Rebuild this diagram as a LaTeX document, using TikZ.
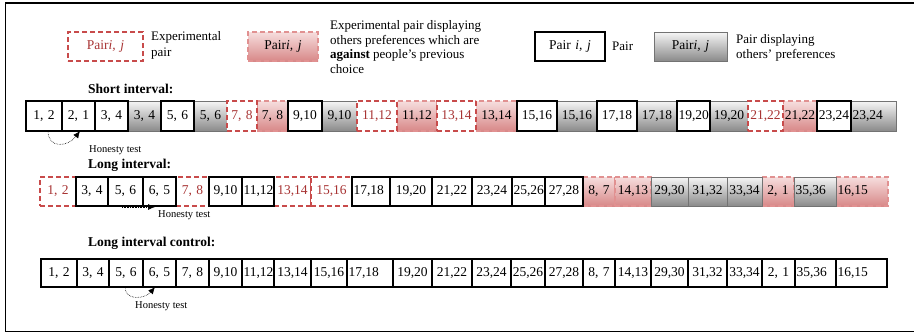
\documentclass[tikz,border=0pt]{standalone}
\usepackage{fontspec}
\setmainfont{Liberation Serif}
\usetikzlibrary{arrows.meta}
\definecolor{redtxt}{RGB}{168,52,52}
\definecolor{reddash}{RGB}{200,75,75}
\definecolor{pinkdash}{RGB}{225,145,145}
\definecolor{pinktop}{RGB}{246,222,222}
\definecolor{pinkbot}{RGB}{216,136,136}
\definecolor{graytop}{RGB}{246,246,246}
\definecolor{graybot}{RGB}{138,138,138}
\definecolor{grayline}{RGB}{115,115,115}
\newcommand{\boxfont}{\fontsize{13.5}{15}\selectfont}
\newcommand{\legfont}{\fontsize{13}{16}\selectfont}
\newcommand{\legfontb}{\fontsize{13}{14.5}\selectfont}
\newcommand{\smallfont}{\fontsize{10.5}{12}\selectfont}
\newcommand{\headfont}{\fontsize{13.5}{15}\selectfont\bfseries}
\newcommand{\cellbox}[5]{\pgfmathsetmacro{\pbW}{#4-#3}\pgfmathsetmacro{\pbT}{#4-#3-3}\node[#2, minimum width=\pbW pt, text width=\pbT pt, minimum height=\rowh pt, anchor=west] (#1) at (#3,\rowy) {#5};}
\begin{document}
\begin{tikzpicture}[x=1pt,y=-1pt,
 cell/.style={inner xsep=1.5pt, inner ysep=0pt, outer sep=0pt, align=center, font=\boxfont},
 wbox/.style={cell, draw=black, line width=1.1pt, fill=white},
 gbox/.style={cell, draw=grayline, line width=0.9pt, top color=graytop, bottom color=graybot},
 dbox/.style={cell, draw=reddash, line width=1.3pt, dash pattern=on 5pt off 3pt, fill=white, text=redtxt},
 pkbox/.style={cell, draw=pinkdash, line width=1.1pt, dash pattern=on 5pt off 3pt, top color=pinktop, bottom color=pinkbot},
 lft/.style={align=left},
 heading/.style={font=\headfont, anchor=west, inner sep=0pt},
 honesty/.style={font=\smallfont, anchor=west, inner sep=0pt},
 legtext/.style={anchor=west, align=left, inner sep=0pt},
 hon/.style={densely dotted, line width=0.6pt, -{Latex[length=7pt,width=6pt]}}]
\useasboundingbox (0,0) rectangle (914,333);
% frame
\draw[line width=1.2pt] (914,3) -- (5.5,3) -- (5.5,331.5) -- (914,331.5);

% legend
\def\rowy{46.5}\def\rowh{29}
\cellbox{lg1}{dbox}{68}{143}{Pair\textit{i, j}}
\cellbox{lg2}{pkbox}{248}{318}{Pair\textit{i, j}}
\cellbox{lg3}{wbox}{535}{605}{Pair \textit{i, j}}
\cellbox{lg4}{gbox}{654}{727}{Pair\textit{i, j}}
\node[legtext, font=\legfont] (lt1) at (151,45.5) {Experimental\\pair};
\node[legtext, font=\legfontb] (lt2) at (330,47) {Experimental pair displaying\\others preferences which are\\\textbf{against} people's previous\\choice};
\node[legtext, font=\legfont] (lt3) at (612,46.5) {Pair};
\node[legtext, font=\legfontb] (lt4) at (736,48) {Pair displaying\\others' preferences};

% short interval
\node[heading] (h1) at (88,88.5) {Short interval:};
\def\rowy{116}\def\rowh{30}
\cellbox{s4}{gbox}{128}{161}{3, 4}
\cellbox{s6}{gbox}{194}{227}{5, 6}
\cellbox{s10}{gbox}{322}{357}{9,10}
\cellbox{s16}{gbox}{557}{597}{15,16}
\cellbox{s18}{gbox}{637}{677}{17,18}
\cellbox{s20}{gbox}{710}{748}{19,20}
\cellbox{s24}{gbox,lft}{851}{896}{23,24}
\cellbox{s8}{pkbox}{257}{288}{7, 8}
\cellbox{s12}{pkbox}{397}{437}{11,12}
\cellbox{s14}{pkbox}{476}{517}{13,14}
\cellbox{s22}{pkbox}{783}{817}{21,22}
\cellbox{s7}{dbox}{227}{257}{7, 8}
\cellbox{s11}{dbox}{357}{397}{11,12}
\cellbox{s13}{dbox}{437}{476}{13,14}
\cellbox{s21}{dbox}{748}{783}{21,22}
\cellbox{s1}{wbox}{26}{62}{1, 2}
\cellbox{s2}{wbox}{62}{95}{2, 1}
\cellbox{s3}{wbox}{95}{128}{3, 4}
\cellbox{s5}{wbox}{161}{194}{5, 6}
\cellbox{s9}{wbox}{288}{322}{9,10}
\cellbox{s15}{wbox}{517}{557}{15,16}
\cellbox{s17}{wbox}{597}{637}{17,18}
\cellbox{s19}{wbox}{677}{710}{19,20}
\cellbox{s23}{wbox}{817}{851}{23,24}
\draw[hon] ([xshift=4pt]s1.south) .. controls +(0,18) and +(-12,16) .. ([xshift=1.5pt]s2.south);
\node[honesty] (ht1) at (89,150.5) {Honesty test};

% long interval
\node[heading] (h2) at (88,165.5) {Long interval:};
\def\rowy{191.5}\def\rowh{29}
\cellbox{l16}{pkbox}{583}{615}{8, 7}
\cellbox{l17}{pkbox}{615}{651}{14,13}
\cellbox{l21}{pkbox}{762}{794}{2, 1}
\cellbox{l23}{pkbox,lft}{836}{888}{16,15}
\cellbox{l18}{gbox}{651}{688}{29,30}
\cellbox{l19}{gbox}{688}{727}{31,32}
\cellbox{l20}{gbox}{727}{762}{33,34}
\cellbox{l22}{gbox,lft}{794}{836}{35,36}
\cellbox{l1}{dbox}{40}{76}{1, 2}
\cellbox{l5}{dbox}{176}{209}{7, 8}
\cellbox{l8}{dbox}{274}{311}{13,14}
\cellbox{l9}{dbox}{311}{352}{15,16}
\cellbox{l2}{wbox}{76}{108}{3, 4}
\cellbox{l3}{wbox}{108}{143}{5, 6}
\cellbox{l4}{wbox}{143}{176}{6, 5}
\cellbox{l6}{wbox}{209}{242}{9,10}
\cellbox{l7}{wbox}{242}{274}{11,12}
\cellbox{l10}{wbox,lft}{352}{390}{17,18}
\cellbox{l11}{wbox}{390}{432}{19,20}
\cellbox{l12}{wbox}{432}{472}{21,22}
\cellbox{l13}{wbox}{472}{512}{23,24}
\cellbox{l14}{wbox}{512}{545}{25,26}
\cellbox{l15}{wbox}{545}{583}{27,28}
\draw[hon] ([shift={(-3.5,1)}]l3.south) -- ([shift={(-4.5,1)}]l4.south);
\node[honesty] (ht2) at (158,215.5) {Honesty test};

% long interval control
\node[heading] (h3) at (88,243.5) {Long interval control:};
\def\rowy{273}\def\rowh{28}
\cellbox{c1}{wbox}{41}{77}{1, 2}
\cellbox{c2}{wbox}{77}{109}{3, 4}
\cellbox{c3}{wbox}{109}{143}{5, 6}
\cellbox{c4}{wbox}{143}{176}{6, 5}
\cellbox{c5}{wbox}{176}{209}{7, 8}
\cellbox{c6}{wbox}{209}{242}{9,10}
\cellbox{c7}{wbox}{242}{274}{11,12}
\cellbox{c8}{wbox}{274}{311}{13,14}
\cellbox{c9}{wbox}{311}{347}{15,16}
\cellbox{c10}{wbox,lft}{347}{393}{17,18}
\cellbox{c11}{wbox}{393}{432}{19,20}
\cellbox{c12}{wbox}{432}{472}{21,22}
\cellbox{c13}{wbox}{472}{511}{23,24}
\cellbox{c14}{wbox}{511}{545}{25,26}
\cellbox{c15}{wbox}{545}{583}{27,28}
\cellbox{c16}{wbox}{583}{615}{8, 7}
\cellbox{c17}{wbox}{615}{651}{14,13}
\cellbox{c18}{wbox}{651}{688}{29,30}
\cellbox{c19}{wbox}{688}{727}{31,32}
\cellbox{c20}{wbox}{727}{762}{33,34}
\cellbox{c21}{wbox}{762}{795}{2, 1}
\cellbox{c22}{wbox,lft}{795}{836}{35,36}
\cellbox{c23}{wbox,lft}{836}{887}{16,15}
\draw[hon] ([xshift=-1pt]c3.south) .. controls +(0,14) and +(-10,12) .. ([xshift=-4.5pt]c4.south);
\node[honesty] (ht3) at (135,306) {Honesty test};
\end{tikzpicture}
\end{document}
